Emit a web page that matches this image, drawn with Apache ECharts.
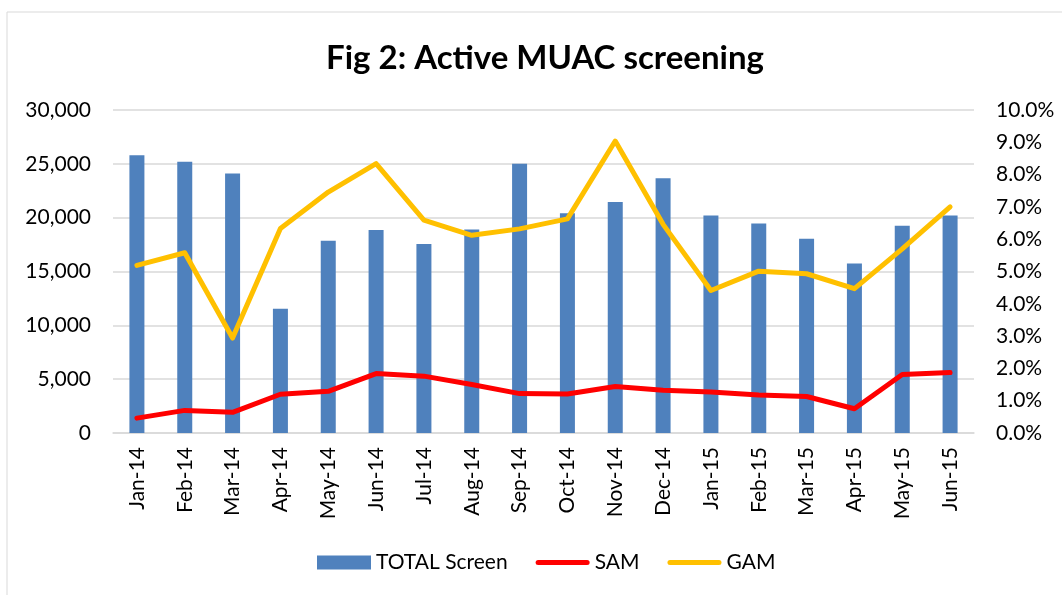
<!DOCTYPE html>
<html>
<head>
<meta charset="utf-8">
<script src="https://cdn.jsdelivr.net/npm/echarts@6/dist/echarts.min.js"></script>
<style>
  html, body { margin: 0; padding: 0; background: #fff; }
  #main { width: 1062px; height: 595px; }
</style>
</head>
<body>
<div id="main"></div>
<script>
var months = ['Jan-14', 'Feb-14', 'Mar-14', 'Apr-14', 'May-14', 'Jun-14', 'Jul-14', 'Aug-14', 'Sep-14',
  'Oct-14', 'Nov-14', 'Dec-14', 'Jan-15', 'Feb-15', 'Mar-15', 'Apr-15', 'May-15', 'Jun-15'];
var totalScreen = [25800, 25200, 24100, 11550, 17850, 18850, 17550, 18900, 25000,
  20400, 21450, 23650, 20200, 19450, 18050, 15750, 19250, 20200];
var sam = [0.0046, 0.0070, 0.0064, 0.0120, 0.0129, 0.0184, 0.0176, 0.0150, 0.0122,
  0.0121, 0.0144, 0.0132, 0.0127, 0.0118, 0.0113, 0.0075, 0.0181, 0.0187];
var gam = [0.0519, 0.0558, 0.0294, 0.0633, 0.0746, 0.0834, 0.0659, 0.0612, 0.0632,
  0.0663, 0.0904, 0.0646, 0.0441, 0.0501, 0.0493, 0.0447, 0.0570, 0.0700];

var font = 'Lato, "Open Sans", sans-serif';
// legend icon for the lines: a thick bar with round ends
var lineIcon = 'path://M2.5,0 H51.5 A2.5,2.5 0 0 1 51.5,5 H2.5 A2.5,2.5 0 0 1 2.5,0 Z';

var myChart = echarts.init(document.getElementById('main'));
var option = {
  backgroundColor: '#fff',
  animation: false,
  graphic: [{
    type: 'rect',
    shape: { x: 7, y: 12, width: 1100, height: 700 },
    style: { fill: 'none', stroke: '#d9d9d9', lineWidth: 1 }
  }],
  title: {
    text: 'Fig 2: Active MUAC screening',
    left: 540,
    textAlign: 'center',
    top: 37,
    textStyle: { fontFamily: font, fontSize: 33, fontWeight: 'bold', color: '#000' }
  },
  legend: {
    bottom: 17,
    left: 312,
    itemGap: 28,
    itemWidth: 54,
    itemHeight: 14,
    textStyle: { fontFamily: font, fontSize: 21, color: '#000' },
    data: [
      { name: 'TOTAL Screen', icon: 'rect' },
      { name: 'SAM', icon: lineIcon },
      { name: 'GAM', icon: lineIcon }
    ]
  },
  grid: { left: 113, right: 88, top: 110, bottom: 162 },
  xAxis: {
    type: 'category',
    data: months,
    axisLine: { lineStyle: { color: '#d9d9d9', width: 1.5 } },
    axisTick: { show: false },
    axisLabel: { rotate: 90, margin: 14, fontFamily: font, fontSize: 21, color: '#000' }
  },
  yAxis: [{
    type: 'value',
    min: 0,
    max: 30000,
    interval: 5000,
    axisLine: { show: false },
    axisTick: { show: false },
    splitLine: { lineStyle: { color: '#d9d9d9', width: 1.5 } },
    axisLabel: {
      margin: 22, fontFamily: font, fontSize: 21, color: '#000',
      formatter: function (v) { return v.toLocaleString('en-US'); }
    }
  }, {
    type: 'value',
    min: 0,
    max: 0.1,
    interval: 0.01,
    axisLine: { show: false },
    axisTick: { show: false },
    splitLine: { show: false },
    axisLabel: {
      margin: 22, fontFamily: font, fontSize: 21, color: '#000',
      formatter: function (v) { return (v * 100).toFixed(1) + '%'; }
    }
  }],
  series: [{
    name: 'TOTAL Screen',
    type: 'bar',
    data: totalScreen,
    barWidth: 15,
    itemStyle: { color: '#4f81bd' }
  }, {
    name: 'SAM',
    type: 'line',
    yAxisIndex: 1,
    data: sam,
    symbol: 'none',
    lineStyle: { color: '#ff0000', width: 5, cap: 'round', join: 'round' },
    itemStyle: { color: '#ff0000' }
  }, {
    name: 'GAM',
    type: 'line',
    yAxisIndex: 1,
    data: gam,
    symbol: 'none',
    lineStyle: { color: '#ffc000', width: 5, cap: 'round', join: 'round' },
    itemStyle: { color: '#ffc000' }
  }]
};
myChart.setOption(option);
</script>
</body>
</html>
